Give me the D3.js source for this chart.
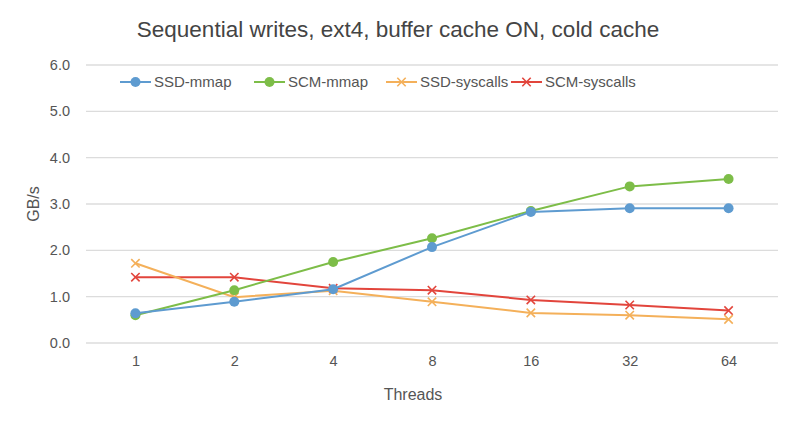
<!DOCTYPE html>
<html>
<head>
<meta charset="utf-8">
<script src="https://cdn.jsdelivr.net/npm/d3@7"></script>
<style>
  body { margin: 0; background: #fff; }
  text { font-family: "Liberation Sans", Arial, sans-serif; }
</style>
</head>
<body>
<div id="chart"></div>
<script>
// data
var threads = ["1", "2", "4", "8", "16", "32", "64"];
var ssdMmap = [0.64, 0.89, 1.16, 2.07, 2.83, 2.91, 2.91];
var scmMmap = [0.60, 1.14, 1.75, 2.26, 2.85, 3.38, 3.54];
var ssdSyscalls = [1.72, 0.99, 1.13, 0.89, 0.65, 0.60, 0.51];
var scmSyscalls = [1.42, 1.42, 1.18, 1.14, 0.93, 0.82, 0.70];
var yTicks = [0, 1, 2, 3, 4, 5, 6];

var series = [
  { name: "SSD-mmap", values: ssdMmap, color: "#5e9bd0", marker: "circle" },
  { name: "SCM-mmap", values: scmMmap, color: "#7dbd48", marker: "circle" },
  { name: "SSD-syscalls", values: ssdSyscalls, color: "#f4b05a", marker: "cross" },
  { name: "SCM-syscalls", values: scmSyscalls, color: "#e2453c", marker: "cross" }
];

var width = 796, height = 422;
var margin = { top: 65, right: 18, bottom: 79, left: 86 };

var svg = d3.select("#chart").append("svg")
  .attr("width", width)
  .attr("height", height);

var x = d3.scalePoint()
  .domain(threads)
  .range([margin.left, width - margin.right])
  .padding(0.5);

var y = d3.scaleLinear()
  .domain([0, 6])
  .range([height - margin.bottom, margin.top]);

// gridlines
svg.append("g")
  .selectAll("line")
  .data(yTicks)
  .enter()
  .append("line")
  .attr("x1", margin.left)
  .attr("x2", width - margin.right)
  .attr("y1", (d) => y(d))
  .attr("y2", (d) => y(d))
  .attr("stroke", "#dcdcdc")
  .attr("stroke-width", 1.3);

// y axis labels
var yAxis = svg.append("g")
  .attr("transform", "translate(" + (margin.left - 13) + ",0)")
  .call(d3.axisLeft(y).tickValues(yTicks).tickFormat(d3.format(".1f")).tickSize(0));
yAxis.select(".domain").remove();
yAxis.selectAll("text")
  .attr("fill", "#555")
  .style("font-size", "14.5px");

// x axis labels
var xAxis = svg.append("g")
  .attr("transform", "translate(0," + (height - margin.bottom + 10) + ")")
  .call(d3.axisBottom(x).tickSize(0));
xAxis.select(".domain").remove();
xAxis.selectAll("text")
  .attr("fill", "#555")
  .style("font-size", "14.5px");

// title and axis titles
svg.append("text")
  .attr("x", 398)
  .attr("y", 37)
  .attr("text-anchor", "middle")
  .attr("fill", "#444")
  .style("font-size", "22.5px")
  .text("Sequential writes, ext4, buffer cache ON, cold cache");

svg.append("text")
  .attr("transform", "translate(39," + y(3) + ") rotate(-90)")
  .attr("text-anchor", "middle")
  .attr("fill", "#555")
  .style("font-size", "16px")
  .text("GB/s");

svg.append("text")
  .attr("x", 413)
  .attr("y", 400)
  .attr("text-anchor", "middle")
  .attr("fill", "#555")
  .style("font-size", "16px")
  .text("Threads");

var line = d3.line()
  .x((d, i) => x(threads[i]))
  .y((d) => y(d));

function drawMarker(g, s, cx, cy) {
  if (s.marker == "circle") {
    g.append("circle")
      .attr("cx", cx)
      .attr("cy", cy)
      .attr("r", 5)
      .attr("fill", s.color);
  } else {
    var r = 4.2;
    g.append("path")
      .attr("d", "M" + (cx - r) + "," + (cy - r) + "L" + (cx + r) + "," + (cy + r) +
        "M" + (cx - r) + "," + (cy + r) + "L" + (cx + r) + "," + (cy - r))
      .attr("stroke", s.color)
      .attr("stroke-width", 1.6)
      .attr("fill", "none");
  }
}

// lines and markers, drawn in reverse so mmap series sit on top
series.slice().reverse().forEach(function (s) {
  var g = svg.append("g");
  g.append("path")
    .datum(s.values)
    .attr("d", line)
    .attr("fill", "none")
    .attr("stroke", s.color)
    .attr("stroke-width", 2);
  s.values.forEach(function (v, i) {
    drawMarker(g, s, x(threads[i]), y(v));
  });
});

// legend
var legendX = [120, 254, 386, 511];
series.forEach(function (s, i) {
  var g = svg.append("g");
  var lx = legendX[i], ly = 82;
  g.append("line")
    .attr("x1", lx)
    .attr("x2", lx + 31)
    .attr("y1", ly)
    .attr("y2", ly)
    .attr("stroke", s.color)
    .attr("stroke-width", 2);
  drawMarker(g, s, lx + 15.5, ly);
  g.append("text")
    .attr("x", lx + 34)
    .attr("y", ly + 5)
    .attr("fill", "#555")
    .style("font-size", "15px")
    .text(s.name);
});
</script>
</body>
</html>
